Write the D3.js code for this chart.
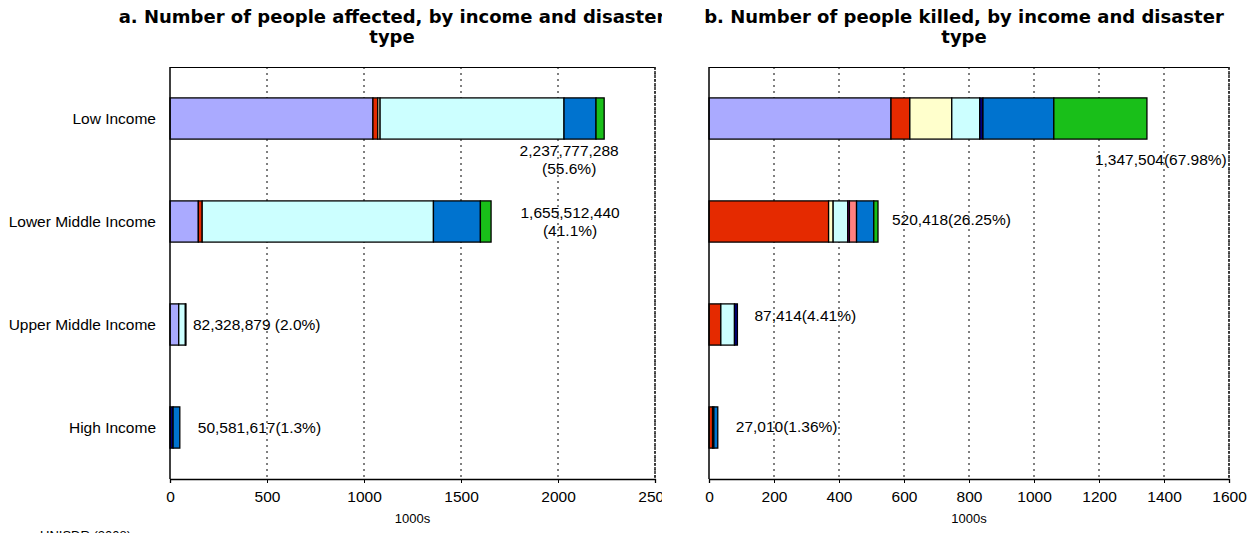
<!DOCTYPE html>
<html>
<head>
<meta charset="utf-8">
<script src="https://cdn.jsdelivr.net/npm/d3@7"></script>
<style>
  body { margin: 0; background: #fff; }
  svg text { font-family: "Liberation Sans", Arial, sans-serif; fill: #000; }
  .title { font-family: "DejaVu Sans", Verdana, sans-serif !important; font-weight: bold; font-size: 18px; }
</style>
</head>
<body>
<div id="chart"></div>
<script>
// income groups, top to bottom
var categories = ["Low Income", "Lower Middle Income", "Upper Middle Income", "High Income"];

// disaster types (stack order) and their colours
var hazards = ["Drought", "Earthquake", "Extreme temperature", "Flood", "Insect infestation",
               "Slides", "Volcano", "Windstorm", "Wave / Surge"];
var hazardColors = ["#aaaaff", "#e52a00", "#ffffcc", "#ccffff", "#990099",
                    "#ff8080", "#000080", "#0073cf", "#19bf19"];

// a. people affected (1000s), one array per hazard, in category order
var affDrought    = [1046, 146, 45, 0];
var affEarthquake = [25, 20, 0, 2];
var affExtTemp    = [12, 0, 0, 0];
var affFlood      = [948, 1192, 34.3, 0];
var affInsect     = [0, 0, 0, 0];
var affSlides     = [0, 0, 0, 0];
var affVolcano    = [0, 0, 3, 14];
var affWindstorm  = [165, 242, 0, 34.6];
var affWave       = [42, 55, 0, 0];
var affLabels = [["2,237,777,288", "(55.6%)"], ["1,655,512,440", "(41.1%)"],
                 ["82,328,879 (2.0%)"], ["50,581,617(1.3%)"]];

// b. people killed (1000s)
var kilDrought    = [560, 0, 0, 0];
var kilEarthquake = [58, 368, 36.4, 11];
var kilExtTemp    = [129, 14, 0, 0];
var kilFlood      = [86, 45, 42, 0];
var kilInsect     = [0, 5, 0, 0];
var kilSlides     = [0, 22, 0, 0];
var kilVolcano    = [10, 0, 9, 4];
var kilWindstorm  = [218, 53, 0, 12];
var kilWave       = [286.5, 13, 0, 0];
var kilLabels = [["1,347,504(67.98%)"], ["520,418(26.25%)"], ["87,414(4.41%)"], ["27,010(1.36%)"]];

var affTicks = [0, 500, 1000, 1500, 2000, 2500];
var kilTicks = [0, 200, 400, 600, 800, 1000, 1200, 1400, 1600];

var W = 1253, H = 533;
var svg = d3.select("#chart").append("svg").attr("width", W).attr("height", H);

function buildRows(series) {
    return categories.map(function(c, i) {
        var row = {cat: c};
        hazards.forEach(function(h, j) { row[h] = series[j][i]; });
        return row;
    });
}

function drawPanel(p) {
    var g = svg.append("g");
    if (p.clip) {
        svg.append("clipPath").attr("id", p.id + "clip")
            .append("rect").attr("x", p.clip[0]).attr("y", 0).attr("width", p.clip[1] - p.clip[0]).attr("height", H);
        g.attr("clip-path", "url(#" + p.id + "clip)");
    }

    var x = d3.scaleLinear().domain([0, p.max]).range(p.xr);
    var y = d3.scaleBand().domain(categories).range([67, 479]).paddingInner(0.6).paddingOuter(0.3);
    var top = 67, bottom = 479;

    // titles
    g.append("text").attr("class", "title").attr("x", p.titleX).attr("y", 23)
        .attr("text-anchor", "middle").text(p.title[0]);
    g.append("text").attr("class", "title").attr("x", p.titleX).attr("y", 43)
        .attr("text-anchor", "middle").text(p.title[1]);

    // dotted vertical gridlines
    g.selectAll(".grid").data(p.ticks.slice(1)).enter().append("line")
        .attr("x1", function(d) { return x(d); }).attr("x2", function(d) { return x(d); })
        .attr("y1", top).attr("y2", bottom)
        .attr("stroke", "#000").attr("stroke-width", 1).attr("stroke-dasharray", "2,4");

    // frame top and right
    g.append("line").attr("x1", x(0)).attr("x2", x(p.max)).attr("y1", top + 0.5).attr("y2", top + 0.5)
        .attr("stroke", "#000").attr("stroke-width", 1);
    g.append("line").attr("x1", x(p.max)).attr("x2", x(p.max)).attr("y1", top).attr("y2", bottom)
        .attr("stroke", "#222").attr("stroke-width", 1.5).attr("stroke-dasharray", "3,1");

    // stacked bars
    var rows = buildRows(p.series);
    var stack = d3.stack().keys(hazards)(rows);
    var layers = g.selectAll(".layer").data(stack).enter().append("g")
        .attr("fill", function(d, i) { return hazardColors[i]; });
    layers.selectAll("rect").data(function(d) { return d.filter(function(s) { return s[1] - s[0] > 0; }); })
        .enter().append("rect")
        .attr("x", function(d) { return x(d[0]); })
        .attr("width", function(d) { return x(d[1]) - x(d[0]); })
        .attr("y", function(d) { return y(d.data.cat); })
        .attr("height", y.bandwidth())
        .attr("stroke", "#000").attr("stroke-width", 1.3);

    // x axis
    var xAxis = g.append("g").attr("transform", "translate(0," + bottom + ")")
        .call(d3.axisBottom(x).tickValues(p.ticks).tickSize(4).tickPadding(8).tickFormat(d3.format("d")));
    xAxis.select(".domain").attr("stroke", "#000").attr("stroke-width", 1.3);
    xAxis.selectAll("text").attr("font-size", "15.5px").attr("font-family", "Liberation Sans, Arial, sans-serif");

    // y axis line
    g.append("line").attr("x1", x(0)).attr("x2", x(0)).attr("y1", top).attr("y2", bottom)
        .attr("stroke", "#000").attr("stroke-width", 1.5);

    if (p.showCats) {
        g.selectAll(".cat").data(categories).enter().append("text")
            .attr("x", x(0) - 14)
            .attr("y", function(d) { return y(d) + y.bandwidth() / 2; })
            .attr("dy", "0.35em").attr("text-anchor", "end").attr("font-size", "15.5px")
            .text(function(d) { return d; });
    }

    // value labels
    categories.forEach(function(c, i) {
        var total = d3.sum(p.series, function(s) { return s[i]; });
        var pos = p.labelPos[i];
        var t = g.append("text").attr("font-size", "15.5px")
            .attr("text-anchor", pos.anchor)
            .attr("x", x(total) + pos.dx)
            .attr("y", pos.y);
        p.labels[i].forEach(function(line, k) {
            t.append("tspan").attr("x", x(total) + pos.dx).attr("y", pos.y + k * 18)
                .attr("dy", "0.35em").text(line);
        });
    });

    // axis title
    g.append("text").attr("x", (p.xr[0] + p.xr[1]) / 2).attr("y", 518).attr("dy", "0.35em")
        .attr("text-anchor", "middle").attr("font-size", "13px").text("1000s");
}

drawPanel({
    id: "aff",
    title: ["a. Number of people affected, by income and disaster", "type"],
    titleX: 392,
    clip: [0, 662],
    max: 2500, xr: [170, 655], ticks: affTicks,
    series: [affDrought, affEarthquake, affExtTemp, affFlood, affInsect, affSlides, affVolcano, affWindstorm, affWave],
    labels: affLabels,
    labelPos: [{dx: -35, y: 151, anchor: "middle"}, {dx: 79, y: 213, anchor: "middle"},
               {dx: 7, y: 325, anchor: "start"}, {dx: 18, y: 428, anchor: "start"}],
    showCats: true
});

drawPanel({
    id: "kil",
    title: ["b. Number of people killed, by income and disaster", "type"],
    titleX: 964,
    clip: null,
    max: 1600, xr: [709, 1229], ticks: kilTicks,
    series: [kilDrought, kilEarthquake, kilExtTemp, kilFlood, kilInsect, kilSlides, kilVolcano, kilWindstorm, kilWave],
    labels: kilLabels,
    labelPos: [{dx: -52, y: 160, anchor: "start"}, {dx: 14, y: 220, anchor: "start"},
               {dx: 17, y: 316, anchor: "start"}, {dx: 18, y: 427, anchor: "start"}],
    showCats: false
});

// source line, cut off at the bottom edge as in the original
svg.append("text").attr("x", 40).attr("y", 540).attr("font-size", "13px").text("UNISDR (2008)");
</script>
</body>
</html>
